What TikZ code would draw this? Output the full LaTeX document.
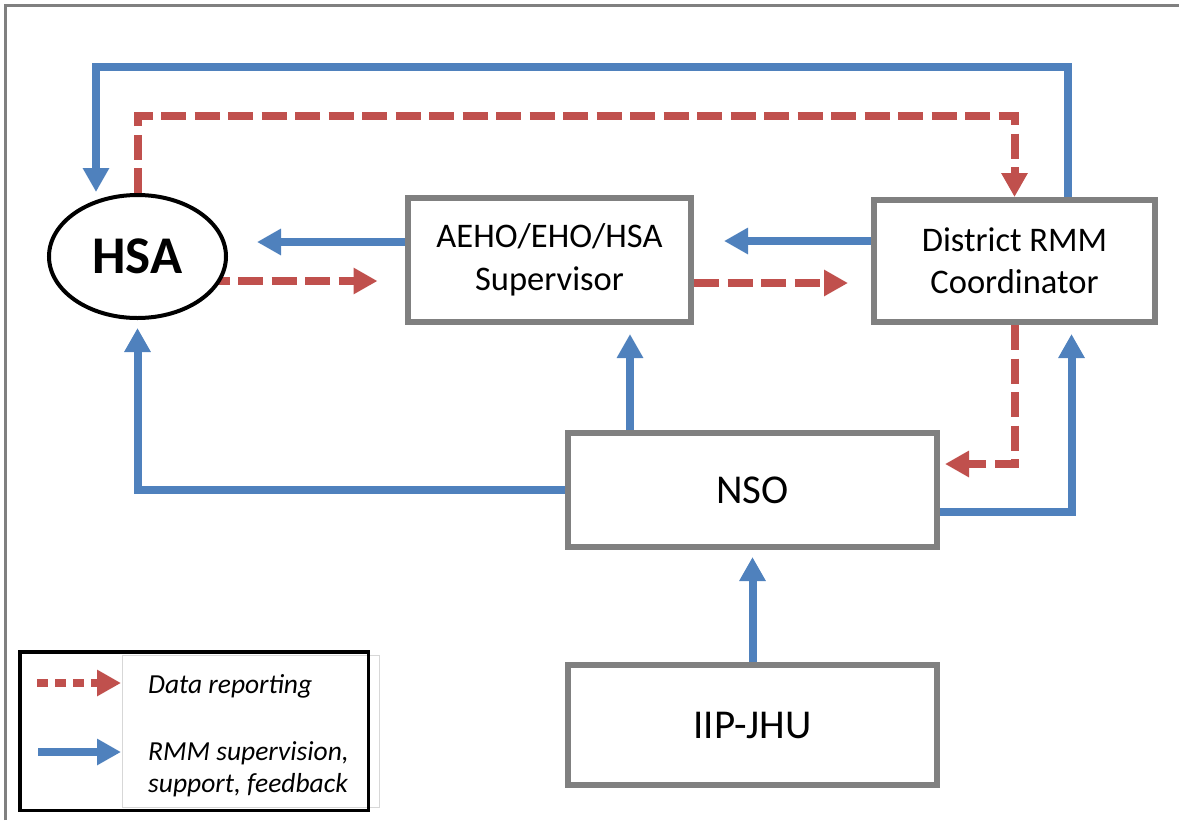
\documentclass[tikz,border=0pt]{standalone}
\usepackage{fontspec}
\setmainfont{Carlito}
\usetikzlibrary{arrows.meta,shapes.geometric}
\definecolor{flowblue}{RGB}{79,129,189}
\definecolor{flowred}{RGB}{192,80,77}
\definecolor{boxgray}{RGB}{128,128,128}
\definecolor{panelgray}{RGB}{215,215,215}
\pgfdeclarelayer{back}
\pgfsetlayers{back,main}

\begin{document}
\begin{tikzpicture}[x=1pt,y=-1pt,
  unitbox/.style={draw=boxgray, line width=6pt, fill=white, rectangle,
    align=center, inner sep=0pt},
  twoline/.style={font=\fontsize{34.5}{42.5}\selectfont},
  oneline/.style={font=\fontsize{41}{48}\selectfont},
  supervise/.style={draw=flowblue, line width=8pt,
    -{Triangle[width=25pt,length=24pt]}},
  report/.style={draw=flowred, line width=8pt, dash pattern=on 25pt off 8.5pt,
    -{Triangle[width=25pt,length=24pt]}},
  legtext/.style={anchor=base west, inner sep=0pt,
    font=\itshape\fontsize{27.5}{32}\selectfont},
]
\useasboundingbox (0,0) rectangle (1179,820);

% outer frame
\draw[boxgray, line width=3pt] (5,820) -- (5,5) -- (1179,5);

% actors
\node[draw=black, line width=4pt, ellipse, fill=white, inner sep=0pt,
      minimum width=177pt, minimum height=123pt,
      font=\bfseries\fontsize{53}{60}\selectfont] (hsa) at (137.5,256.5) {HSA};
\node[unitbox, twoline, minimum width=283pt, minimum height=124pt]
      (aeho) at (549.5,260) {AEHO/EHO/HSA\\Supervisor};
\node[unitbox, twoline, minimum width=281pt, minimum height=122pt]
      (dist) at (1014.5,261) {District RMM\\Coordinator};
\node[unitbox, oneline, minimum width=369pt, minimum height=114pt]
      (nso) at (752.5,490) {NSO};
\node[unitbox, oneline, minimum width=369pt, minimum height=120pt]
      (iip) at (752.5,725) {IIP-JHU};

% helper points
\coordinate (loopTL) at (96,67);
\coordinate (hsaTop) at (96,192);
\coordinate (nsoUp) at ([xshift=-122.5pt]nso.north);

\begin{pgfonlayer}{back}
  % supervision / support / feedback
  \draw[supervise] ([xshift=53.5pt]dist.north) |- (loopTL) -- (hsaTop);
  \draw[supervise] ([yshift=18pt]aeho.west) -- ++(-148,0);
  \draw[supervise] ([yshift=20pt]dist.west) -- ++(-147,0);
  \draw[supervise, shorten >=9pt] ([yshift=-22pt]nso.east) -| ([xshift=57pt]dist.south);
  \draw[supervise, shorten >=9pt] (nsoUp) -- (nsoUp |- aeho.south);
  \draw[supervise, shorten >=8pt] (nso.west) -| (hsa.south);
  \draw[supervise, shorten >=7pt] (iip.north) -- (nso.south);
  % data reporting
  \draw[report] (hsa.north) -- ++(0,-77) -| (dist.north);
  \draw[report] ([yshift=-24.5pt]hsa.center) -- ++(240,0);
  \draw[report] ([yshift=-23pt]aeho.east) -- ++(154,0);
  \draw[report, shorten >=5pt] (dist.south) |- ([yshift=26pt]nso.east);
\end{pgfonlayer}

% legend
\node[draw=panelgray, line width=1pt, inner sep=0pt,
      minimum width=257pt, minimum height=152pt] (legpanel) at (251,731.5) {};
\node[draw=black, line width=3.5pt, inner sep=0pt,
      minimum width=348.5pt, minimum height=158.5pt] (legend) at (194,731) {};
\coordinate (lr0) at (37,683);
\coordinate (lr1) at (121,683);
\coordinate (lb0) at (38,752);
\coordinate (lb1) at (121,752);
\draw[report, dash pattern=on 11pt off 7pt] (lr0) -- (lr1);
\draw[supervise] (lb0) -- (lb1);
\node[legtext] (legrep) at (148,693) {Data reporting};
\node[legtext] (legsup1) at (148,760) {RMM supervision,};
\node[legtext] (legsup2) at (148,792) {support, feedback};
\end{tikzpicture}
\end{document}
